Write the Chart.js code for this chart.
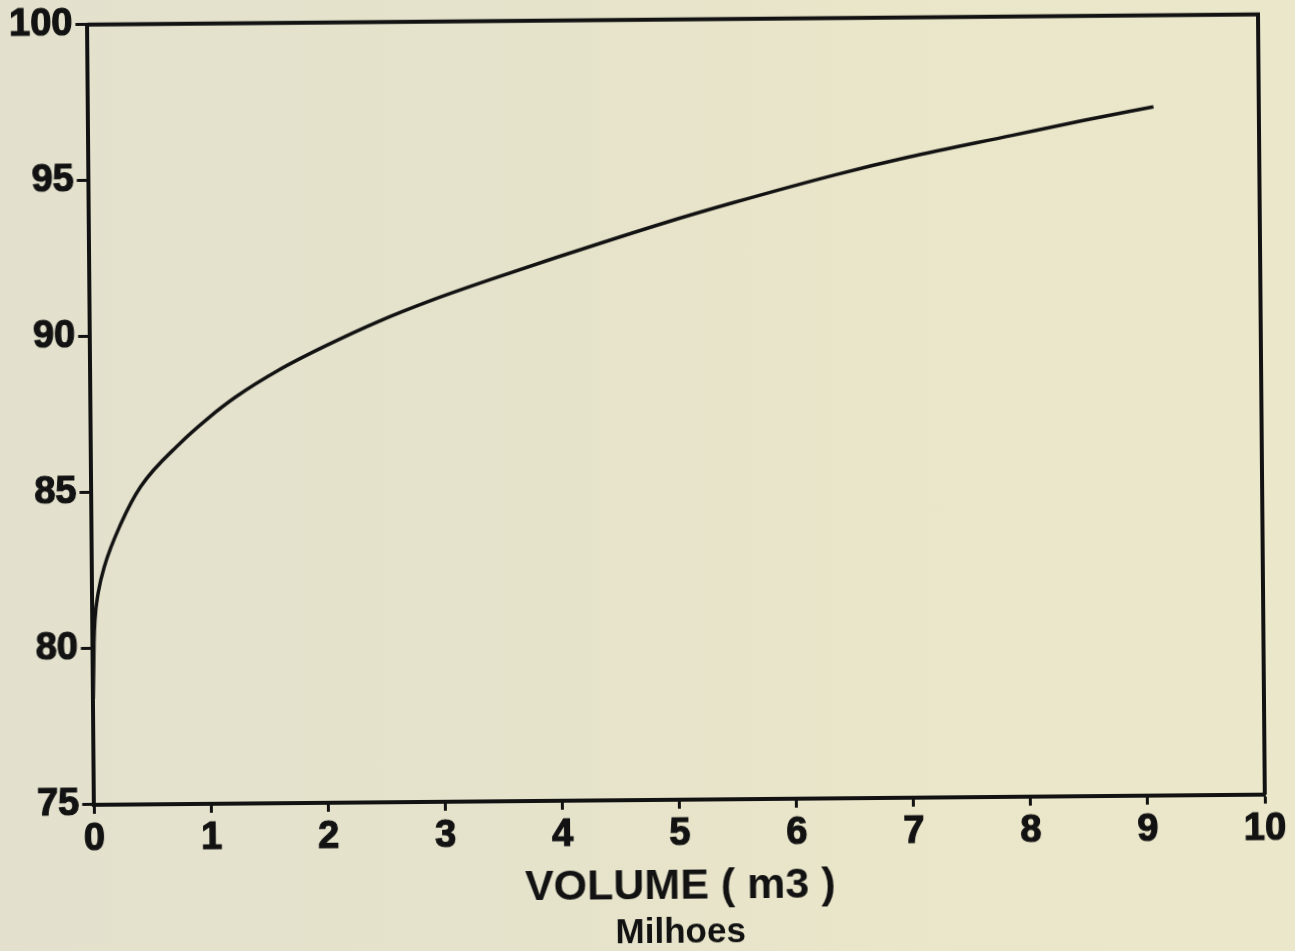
<!DOCTYPE html>
<html>
<head>
<meta charset="utf-8">
<script src="https://cdn.jsdelivr.net/npm/chart.js@4"></script>
<style>
  html, body { margin: 0; padding: 0; }
  body {
    width: 1295px; height: 951px; overflow: hidden;
    background: linear-gradient(90deg, #e3e1cd 0%, #e6e3cb 45%, #eae6c9 70%, #ebe7ca 100%);
  }
  #wrap { width: 1295px; height: 951px; transform: rotate(-0.5deg); }
</style>
</head>
<body>
<div id="wrap"><canvas id="volume-chart" width="1295" height="951"></canvas></div>
<script>
// volume (millions of m3) against level
const volume = [0, 0.01, 0.02, 0.05, 0.105, 0.25, 0.42, 0.76, 1.0, 1.24, 1.61, 2.0, 2.46, 2.92, 3.49, 4.0, 4.91, 5.5, 6.39, 7.0, 7.89, 8.5, 9.1];
const level = [78.4, 80.2, 80.94, 81.8, 82.64, 84.01, 85.18, 86.56, 87.35, 88.03, 88.88, 89.62, 90.4, 91.07, 91.8, 92.42, 93.48, 94.11, 94.99, 95.52, 96.19, 96.65, 97.07];
const xTicks = [0, 1, 2, 3, 4, 5, 6, 7, 8, 9, 10];
const yTicks = [75, 80, 85, 90, 95, 100];

const ink = '#121212';
const family = "'Liberation Sans', Arial, sans-serif";
const tickFont = { family: family, size: 38, weight: 'bold', lineHeight: 0.88 };

// closes the box on the top and right sides
const frame = {
    id: 'frame',
    afterDraw(chart) {
        const { ctx, chartArea: a } = chart;
        ctx.save();
        ctx.strokeStyle = ink;
        ctx.lineWidth = 4;
        ctx.beginPath();
        ctx.moveTo(a.left, a.top);
        ctx.lineTo(a.right, a.top);
        ctx.lineTo(a.right, a.bottom);
        ctx.stroke();
        ctx.restore();
    }
};

new Chart(document.getElementById('volume-chart'), {
    type: 'line',
    data: {
        datasets: [{
            data: volume.map((v, i) => ({ x: v, y: level[i] })),
            borderColor: ink,
            borderWidth: 3.5,
            pointRadius: 0,
            fill: false,
            cubicInterpolationMode: 'monotone'
        }]
    },
    options: {
        responsive: false,
        animation: false,
        layout: { padding: { top: 2, left: 10, right: 33, bottom: 0 } },
        plugins: {
            legend: { display: false },
            tooltip: { enabled: false },
            title: {
                display: true,
                text: 'Milhoes',
                position: 'bottom',
                fullSize: false,
                color: ink,
                font: { family: family, size: 35, weight: 'bold', lineHeight: 1.0 },
                padding: { top: 0, bottom: 0 }
            }
        },
        scales: {
            x: {
                type: 'linear',
                min: 0,
                max: 10,
                afterBuildTicks: (s) => { s.ticks = xTicks.map(v => ({ value: v })); },
                ticks: { color: ink, font: tickFont, padding: 9, textStrokeColor: ink, textStrokeWidth: 1.2 },
                grid: { display: true, drawOnChartArea: false, drawTicks: true, tickLength: 9, tickWidth: 3, tickColor: ink },
                border: { display: true, color: ink, width: 4 },
                title: {
                    display: true,
                    text: 'VOLUME ( m3 )',
                    color: ink,
                    font: { family: family, size: 43, weight: 'bold' },
                    padding: { top: 1, bottom: 3 }
                }
            },
            y: {
                type: 'linear',
                min: 75,
                max: 100,
                afterBuildTicks: (s) => { s.ticks = yTicks.map(v => ({ value: v })); },
                ticks: { color: ink, font: tickFont, padding: 3, textStrokeColor: ink, textStrokeWidth: 1.2 },
                grid: { display: true, drawOnChartArea: false, drawTicks: true, tickLength: 12, tickWidth: 3, tickColor: ink },
                border: { display: true, color: ink, width: 4 }
            }
        }
    },
    plugins: [frame]
});
</script>
</body>
</html>
